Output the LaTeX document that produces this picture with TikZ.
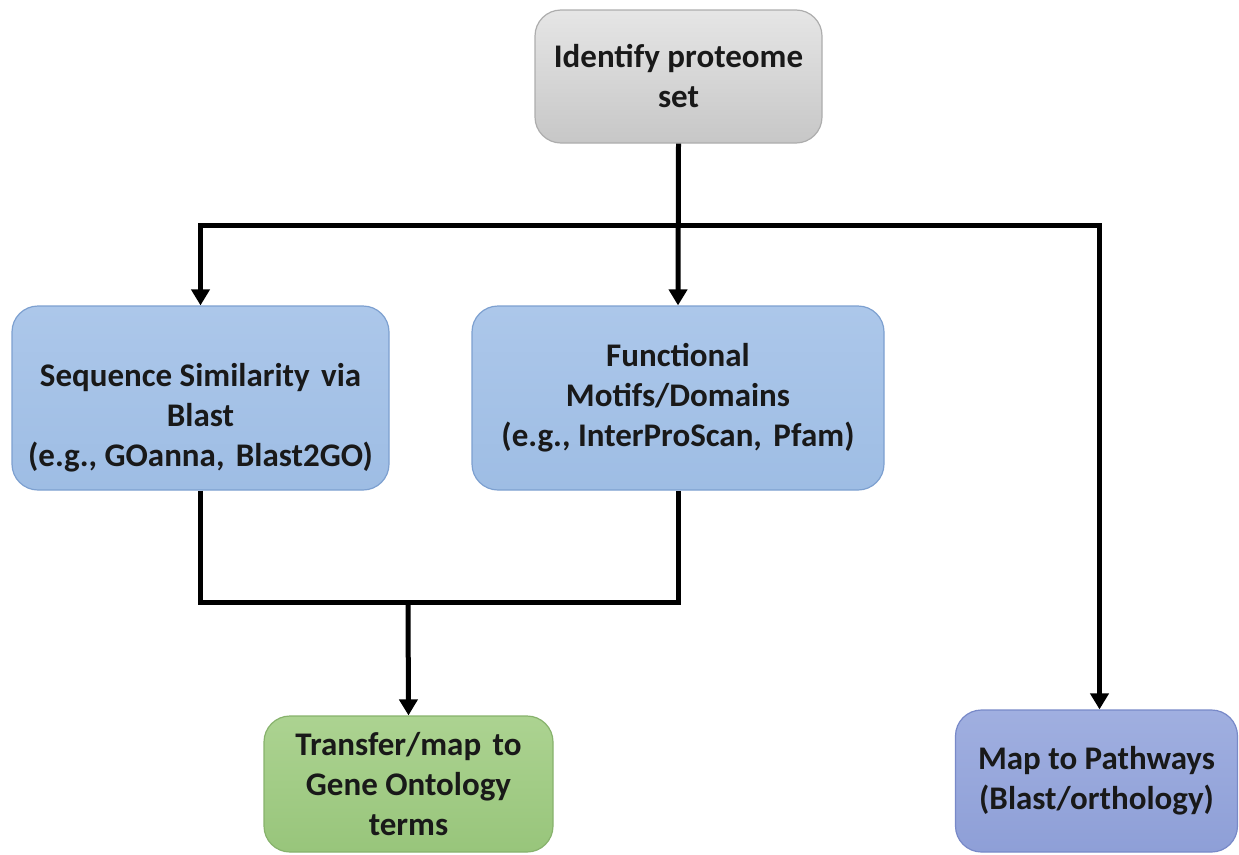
\documentclass[tikz,border=0pt]{standalone}
\usepackage{fontspec}
\setmainfont{Carlito}
\usetikzlibrary{arrows.meta,positioning}
\tikzset{
  x=1pt, y=-1pt,
  boxbase/.style={rounded corners=26pt, line width=1.2pt, align=center, inner sep=0pt,
    font=\bfseries\fontsize{33}{40}\selectfont, text=black!90},
  graybox/.style={boxbase, draw=black!32, top color=black!10, bottom color=black!22},
  bluebox/.style={boxbase, top color={rgb,255:red,172;green,199;blue,234}, bottom color={rgb,255:red,158;green,189;blue,228}, draw={rgb,255:red,125;green,160;blue,208}},
  greenbox/.style={boxbase, top color={rgb,255:red,172;green,211;blue,145}, bottom color={rgb,255:red,152;green,197;blue,123}, draw={rgb,255:red,135;green,178;blue,108}},
  pathbox/.style={boxbase, top color={rgb,255:red,160;green,175;blue,224}, bottom color={rgb,255:red,142;green,159;blue,215}, draw={rgb,255:red,120;green,137;blue,200}},
  conn/.style={line width=5pt, draw=black},
  arr/.style={conn, -{Triangle[width=18pt,length=16pt]}},
}
\begin{document}
\begin{tikzpicture}
\useasboundingbox (0,0) rectangle (1239,854);
\node[graybox, minimum width=287pt, minimum height=133pt] (top) at (678.5,76.5) {Identify proteome\\set};
\node[bluebox, minimum width=377pt, minimum height=184pt] (left) at (200.5,398) {\mbox{}\\[22pt]Sequence Similarity\hspace{0.12em} via\\Blast\\(e.g., GOanna,\hspace{0.12em} Blast2GO)};
\node[bluebox, minimum width=412pt, minimum height=184pt] (mid) at (678,398) {Functional\\Motifs/Domains\\(e.g., InterProScan,\hspace{0.12em} Pfam)};
\node[greenbox, minimum width=289pt, minimum height=136pt] (go) at (408.5,784) {Transfer/map\hspace{0.12em} to\\Gene Ontology\\terms};
\node[pathbox, minimum width=282pt, minimum height=142pt] (path) at (1096.5,781) {Map to Pathways\\(Blast/orthology)};
\coordinate (split) at (678,225);
\coordinate (merge) at (408,602);
\draw[arr] (top.south) -- (mid.north);
\draw[arr] (split) -| (left.north);
\draw[arr] (split) -| ([xshift=3pt]path.north);
\draw[conn] (left.south) -- (left.south |- merge) -- (mid.south |- merge) -- (mid.south);
\draw[arr] (merge) -- (go.north);
\end{tikzpicture}
\end{document}
